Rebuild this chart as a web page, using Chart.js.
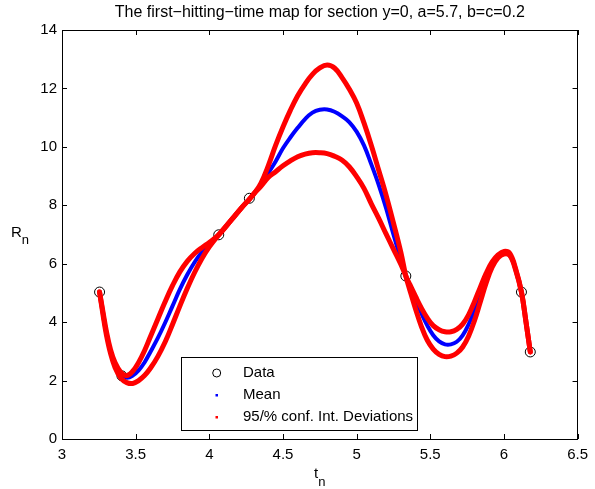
<!DOCTYPE html>
<html><head><meta charset="utf-8">
<script src="https://cdn.jsdelivr.net/npm/chart.js@4"></script>
<style>html,body{margin:0;padding:0;background:#fff;}#wrap{width:595px;height:489px;position:relative;}</style>
</head><body><div id="wrap"><canvas id="c" width="595" height="489"></canvas></div>
<script>
// ---- data ----
const tGrid = [3.255,3.28,3.30,3.33,3.36,3.40,3.44,3.48,3.52,3.56,3.60,3.65,3.70,3.75,3.80,3.85,3.90,3.95,4.00,4.064,4.15,4.22,4.274,4.31,
  4.35,4.40,4.45,4.50,4.55,4.60,4.65,4.70,4.75,4.80,4.85,4.90,4.95,5.00,5.05,5.10,5.15,5.20,5.25,5.30,5.334,
  5.36,5.40,5.44,5.48,5.52,5.56,5.60,5.64,5.68,5.72,5.76,5.80,5.84,5.88,5.92,5.96,6.00,6.04,6.08,6.119,6.15,6.179];
const meanR = [5.03,4.25,3.65,2.98,2.55,2.22,2.10,2.17,2.35,2.62,2.98,3.45,3.98,4.55,5.12,5.62,6.05,6.40,6.68,6.99,7.50,7.92,8.22,8.44,
  8.70,9.10,9.50,9.95,10.32,10.65,10.95,11.17,11.27,11.28,11.20,11.05,10.85,10.52,10.05,9.40,8.70,7.90,7.00,6.15,5.58,
  5.20,4.75,4.30,3.88,3.55,3.34,3.24,3.24,3.33,3.55,3.92,4.42,4.98,5.52,5.96,6.24,6.35,6.28,5.80,5.03,4.00,2.98];
const highPeakR = [5.03,4.20,3.60,2.92,2.45,2.08,1.93,1.90,2.00,2.17,2.42,2.82,3.32,3.92,4.55,5.15,5.70,6.18,6.58,6.99,7.50,7.92,8.22,8.44,
  8.75,9.35,10.05,10.68,11.25,11.75,12.15,12.48,12.70,12.80,12.70,12.38,11.98,11.50,10.82,10.05,9.20,8.35,7.40,6.40,5.58,
  5.12,4.45,3.85,3.38,3.08,2.90,2.82,2.84,2.94,3.15,3.52,4.05,4.70,5.35,5.88,6.20,6.33,6.28,5.78,5.03,4.00,2.98];
const lowPeakR = [5.03,4.30,3.72,3.05,2.62,2.28,2.17,2.32,2.62,3.02,3.50,4.10,4.70,5.25,5.72,6.08,6.35,6.55,6.73,6.99,7.50,7.92,8.22,8.44,
  8.65,8.95,9.15,9.35,9.52,9.66,9.75,9.80,9.80,9.77,9.68,9.55,9.32,8.98,8.58,8.05,7.55,7.02,6.50,5.98,5.58,
  5.30,4.88,4.48,4.14,3.88,3.74,3.67,3.67,3.75,3.93,4.25,4.70,5.20,5.68,6.06,6.30,6.42,6.35,5.82,5.03,4.00,2.98];
const dataT = [3.255,3.407,4.064,4.272,5.334,6.119,6.179];
const dataR = [5.03,2.16,6.99,8.24,5.58,5.03,2.98];
const xTicks = [3,3.5,4,4.5,5,5.5,6,6.5];
const yTicks = [0,2,4,6,8,10,12,14];
const titleText = 'The first\u2212hitting\u2212time map for section y=0, a=5.7, b=c=0.2';
const legendLabels = ['Data','Mean','95/% conf. Int. Deviations'];

function pts(xs, ys){ return xs.map((x,i)=>({x:x, y:ys[i]})); }
const FONT = '"Liberation Sans", Arial, Helvetica, sans-serif';

const decor = {
  id:'decor',
  afterDraw(chart){
    const ctx = chart.ctx, a = chart.chartArea;
    const xs = chart.scales.x, ys = chart.scales.y;
    ctx.save();
    ctx.strokeStyle = '#000'; ctx.lineWidth = 1;
    ctx.strokeRect(Math.round(a.left)+0.5, Math.round(a.top)+0.5, Math.round(a.right-a.left)-1, Math.round(a.bottom-a.top));
    ctx.beginPath();
    xTicks.forEach(v=>{
      const px = Math.round(xs.getPixelForValue(v))+0.5;
      ctx.moveTo(px, a.bottom); ctx.lineTo(px, a.bottom-5);
      ctx.moveTo(px, a.top); ctx.lineTo(px, a.top+5);
    });
    yTicks.forEach(v=>{
      const py = Math.round(ys.getPixelForValue(v))+0.5;
      ctx.moveTo(a.left, py); ctx.lineTo(a.left+5, py);
      ctx.moveTo(a.right, py); ctx.lineTo(a.right-5, py);
    });
    ctx.stroke();
    // title
    ctx.fillStyle = '#000';
    ctx.font = '16px ' + FONT;
    ctx.textAlign = 'center'; ctx.textBaseline = 'alphabetic';
    ctx.fillText(titleText, (a.left+a.right)/2, 17);
    // x label t_n
    ctx.textAlign = 'left';
    ctx.font = '15px ' + FONT;
    const tw = ctx.measureText('t').width;
    ctx.font = '13px ' + FONT;
    const nw = ctx.measureText('n').width;
    const cx = (a.left+a.right)/2;
    const sx = cx - (tw+nw)/2;
    ctx.font = '15px ' + FONT;
    ctx.fillText('t', sx, 478);
    ctx.font = '13px ' + FONT;
    ctx.fillText('n', sx+tw, 486);
    // y label R_n
    ctx.font = '15px ' + FONT;
    ctx.fillText('R', 11, 237);
    const rw = ctx.measureText('R').width;
    ctx.font = '13px ' + FONT;
    ctx.fillText('n', 11+rw, 244);
    // legend
    const L = 181.5, T = 357.5, R = 417.5, B = 430.5;
    ctx.fillStyle = '#fff';
    ctx.fillRect(L, T, R-L, B-T);
    ctx.strokeRect(L, T, R-L, B-T);
    ctx.font = '15px ' + FONT;
    ctx.fillStyle = '#000';
    ctx.textBaseline = 'middle';
    const rows = [373, 395, 417];
    legendLabels.forEach((s,i)=>ctx.fillText(s, 243, rows[i]));
    ctx.beginPath(); ctx.arc(216.7, rows[0], 4, 0, Math.PI*2); ctx.stroke();
    ctx.fillStyle = '#0000ff'; ctx.fillRect(215.5, rows[1]-1, 2.5, 2.5);
    ctx.fillStyle = '#ff0000'; ctx.fillRect(215.5, rows[2]-1, 2.5, 2.5);
    ctx.restore();
  }
};

const lineCommon = { showLine:true, pointRadius:0, tension:0.4, borderCapStyle:'round', borderJoinStyle:'round' };

new Chart(document.getElementById('c'), {
  type:'scatter',
  data:{ datasets:[
    Object.assign({ label:'high', data:pts(tGrid, highPeakR), borderColor:'#ff0000', borderWidth:5, order:0 }, lineCommon),
    Object.assign({ label:'low', data:pts(tGrid, lowPeakR), borderColor:'#ff0000', borderWidth:5, order:1 }, lineCommon),
    Object.assign({ label:'Mean', data:pts(tGrid, meanR), borderColor:'#0000ff', borderWidth:4, order:2 }, lineCommon),
    { label:'Data', data:pts(dataT, dataR), showLine:false, pointRadius:5, pointBorderWidth:1, pointBorderColor:'#000', pointBackgroundColor:'rgba(0,0,0,0)', order:3 }
  ]},
  options:{
    responsive:false, animation:false, devicePixelRatio:1,
    layout:{ padding:{ left:0, right:11, top:30, bottom:0 } },
    plugins:{ legend:{display:false}, title:{display:false}, tooltip:{enabled:false} },
    scales:{
      x:{ type:'linear', min:3, max:6.5,
          afterBuildTicks(s){ s.ticks = xTicks.map(v=>({value:v})); },
          afterFit(s){ s.height = 50; },
          grid:{display:false, drawTicks:false}, border:{display:false},
          ticks:{ color:'#000', padding:7, font:{size:15, family:FONT}, maxRotation:0, autoSkip:false,
                  callback:(v)=>String(v) } },
      y:{ type:'linear', min:0, max:14,
          afterBuildTicks(s){ s.ticks = yTicks.map(v=>({value:v})); },
          afterFit(s){ s.width = 62; },
          grid:{display:false, drawTicks:false}, border:{display:false},
          ticks:{ color:'#000', padding:5, font:{size:15, family:FONT}, autoSkip:false,
                  callback:(v)=>String(v) } }
    }
  },
  plugins:[decor]
});
</script></body></html>
